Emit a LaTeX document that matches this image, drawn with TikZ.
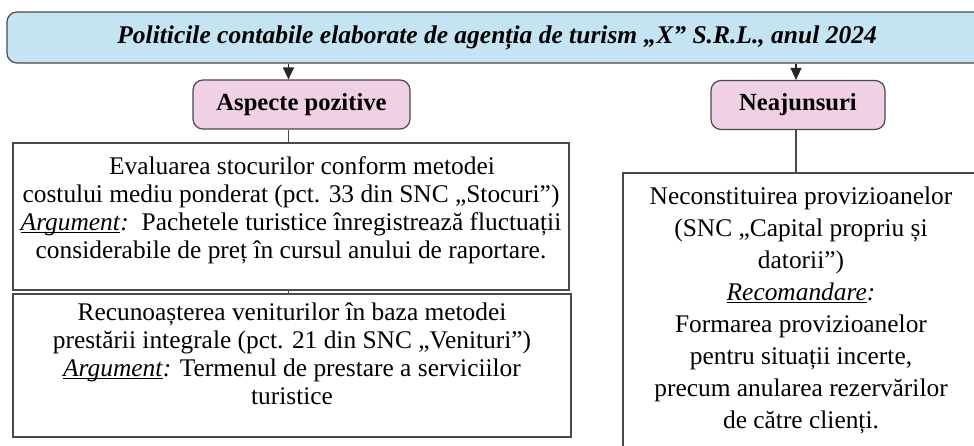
\documentclass[tikz,border=0pt]{standalone}
\usepackage{fontspec}
\setmainfont{Liberation Serif}
\usepackage{xcolor}
\usetikzlibrary{arrows.meta}

\definecolor{titleblue}{HTML}{C4E4F4}
\definecolor{headpink}{HTML}{F0D0E4}
\definecolor{edgegray}{HTML}{4A4A4A}
\newcommand{\argu}[1]{\setbox0\hbox{\textit{#1}}\rlap{\rule[-1.3pt]{\wd0}{0.55pt}}\box0\textit{:}}

\begin{document}
\begin{tikzpicture}[x=0.5pt,y=-0.5pt,>={Triangle[length=6pt,width=5.5pt]},
  title node/.style={rectangle,rounded corners=5pt,draw=edgegray,line width=0.6pt,fill=titleblue,minimum width=490pt,minimum height=25.5pt,inner sep=0pt,font=\fontsize{12.75}{15}\selectfont\bfseries\itshape},
  head node/.style={rectangle,rounded corners=5pt,draw=edgegray,line width=0.6pt,fill=headpink,minimum height=24.5pt,inner sep=0pt,font=\fontsize{12.3}{15}\selectfont\bfseries},
  text box/.style={rectangle,draw=edgegray,line width=0.6pt,align=center,inner sep=0pt,font=\fontsize{12.7}{14}\selectfont},
  link/.style={draw=edgegray,line width=0.6pt},
  arrow link/.style={draw=black!85,fill=black!85,line width=0.7pt,->}]
    \useasboundingbox (0,0) rectangle (974,445);

    \node [title node] (1) at (497,37.5) {Politicile contabile elaborate de agenția de turism „X” S.R.L., anul 2024};

    \node [head node, minimum width=108.5pt] (2) at (301.5,104.5) {Aspecte pozitive};
    \node [head node, minimum width=87pt] (3) at (798,105) {Neajunsuri};

    \node [text box, minimum width=278pt, minimum height=73.5pt, text depth=9pt] (4) at (291,216.5)
        {\hspace*{11pt}Evaluarea stocurilor conform metodei\\
         costului mediu ponderat (pct. 33 din SNC „Stocuri”)\\
         \argu{Argument}\ \ Pachetele turistice înregistrează fluctuații\\
         considerabile de preț în cursul anului de raportare.};
    \node [text box, minimum width=279pt, minimum height=71.5pt, text depth=12pt] (5) at (292,365.5)
        {Recunoașterea veniturilor în baza metodei\\
         prestării integrale (pct. 21 din SNC „Venituri”)\\
         \argu{Argument} Termenul de prestare a serviciilor\\
         turistice};
    \node [text box, minimum width=178pt, minimum height=137.5pt, font=\fontsize{12.7}{16}\selectfont] (6) at (801,310.5)
        {Neconstituirea provizioanelor\\
         (SNC „Capital propriu și\\
         datorii”)\\
         \argu{Recomandare}\\
         Formarea provizioanelor\\
         pentru situații incerte,\\
         precum anularea rezervărilor\\
         de către clienți.};

    \coordinate (a) at ([xshift=-6.5pt]2.north);
    \coordinate (b) at ([xshift=-1pt]3.north);

    \draw [arrow link] (a |- 1.south) -- (a);
    \draw [arrow link] (b |- 1.south) -- (b);
    \draw [link] (a |- 2.south) -- (a |- 4.north);
    \draw [link] (a |- 4.south) -- (a |- 5.north);
    \draw [link] (b |- 3.south) -- (b |- 6.north);
\end{tikzpicture}
\end{document}
